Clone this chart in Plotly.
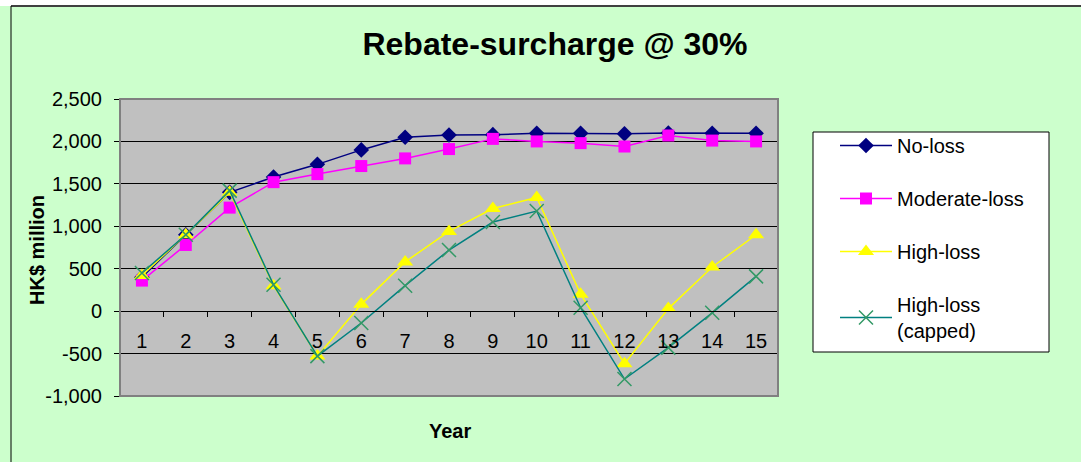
import plotly.graph_objects as go

years = [str(i) for i in range(1, 16)]
no_loss = [400, 900, 1400, 1580, 1730, 1900, 2050, 2075, 2080, 2095, 2095, 2090, 2100, 2095, 2095]
moderate_loss = [360, 780, 1220, 1520, 1615, 1710, 1800, 1910, 2030, 2000, 1980, 1940, 2070, 2010, 2000]
high_loss = [420, 900, 1400, 300, -530, 80, 580, 940, 1210, 1340, 200, -620, 30, 520, 900]
high_loss_capped = [450, 900, 1420, 310, -530, -140, 300, 720, 1050, 1180, 40, -800, -430, -20, 410]
y_tick_vals = [-1000, -500, 0, 500, 1000, 1500, 2000, 2500]
y_tick_text = ["-1,000", "-500", "0", "500", "1,000", "1,500", "2,000", "2,500"]

FONT = "Liberation Sans, Arial, sans-serif"
L, R, T, B = 120, 303, 99, 66
W, H = 1081, 462
PW, PH = W - L - R, H - T - B

def px_x(px):
    return (px - L) / PW

def px_y(py):
    return (H - B - py) / PH

fig = go.Figure()
fig.add_trace(go.Scatter(x=years, y=no_loss, name="No-loss", mode="lines+markers",
                         line=dict(color="#000080", width=1.5),
                         marker=dict(symbol="diamond", size=12, color="#000080"),
                         legendgroup="a"))
fig.add_trace(go.Scatter(x=years, y=moderate_loss, name="Moderate-loss", mode="lines+markers",
                         line=dict(color="#FF00FF", width=1.5),
                         marker=dict(symbol="square", size=12, color="#FF00FF"),
                         legendgroup="b"))
fig.add_trace(go.Scatter(x=years, y=high_loss, name="High-loss", mode="lines+markers",
                         line=dict(color="#FFFF00", width=1.5),
                         marker=dict(symbol="triangle-up", size=14, color="#FFFF00"),
                         legendgroup="c"))
fig.add_trace(go.Scatter(x=years, y=high_loss_capped, name="High-loss<br>(capped)", mode="lines+markers",
                         line=dict(color="#008080", width=1.5),
                         marker=dict(symbol="x-thin", size=14, line=dict(color="#339966", width=1.5)),
                         legendgroup="d"))

fig.update_layout(
    width=W, height=H,
    margin=dict(l=L, r=R, t=T, b=B, autoexpand=False),
    paper_bgcolor="#CCFFCC",
    plot_bgcolor="#C0C0C0",
    font=dict(family=FONT, size=20, color="black"),
    title=dict(text="<b>Rebate-surcharge @ 30%</b>", x=px_x(555), xref="paper", xanchor="center",
               y=1 - 44 / H, yanchor="middle", font=dict(size=32, family=FONT)),
    showlegend=True,
    legend=dict(x=px_x(813), y=px_y(126), xanchor="left", yanchor="top",
                bgcolor="rgba(0,0,0,0)", borderwidth=0,
                traceorder="grouped", tracegroupgap=24, itemwidth=52, indentation=22,
                font=dict(size=20, family=FONT)),
    xaxis=dict(type="category", range=[-0.5, 14.5], anchor="free", position=1000 / 3500,
               showline=True, linecolor="black", linewidth=1,
               ticks="outside", tickson="boundaries", ticklen=5, tickcolor="black",
               ticklabelstandoff=12, showgrid=False, zeroline=False,
               tickfont=dict(size=20)),
    yaxis=dict(range=[-1000, 2500], tickmode="array", tickvals=y_tick_vals, ticktext=y_tick_text,
               showline=True, linecolor="#404040", linewidth=1, ticks="outside", ticklen=5,
               tickcolor="black", gridcolor="black", gridwidth=1, zeroline=False,
               ticklabelstandoff=8, tickfont=dict(size=20)),
    shapes=[
        dict(type="rect", xref="paper", yref="paper", x0=0, x1=1, y0=0, y1=1,
             line=dict(color="#808080", width=2), fillcolor="rgba(0,0,0,0)", layer="above"),
        dict(type="rect", xref="paper", yref="paper", x0=px_x(-5), x1=px_x(W + 5),
             y0=px_y(6), y1=px_y(-5), line=dict(width=0), fillcolor="white", layer="below"),
        dict(type="line", xref="paper", yref="paper", x0=px_x(11), x1=px_x(W + 5),
             y0=px_y(6), y1=px_y(6), line=dict(color="#404040", width=2)),
        dict(type="line", xref="paper", yref="paper", x0=px_x(11), x1=px_x(11),
             y0=px_y(6), y1=px_y(H + 5), line=dict(color="black", width=1)),
        dict(type="rect", xref="paper", yref="paper", x0=px_x(813), x1=px_x(1049),
             y0=px_y(352), y1=px_y(132), line=dict(color="black", width=1),
             fillcolor="white", layer="above"),
    ],
    annotations=[
        dict(text="<b>Year</b>", xref="paper", yref="paper", x=px_x(450), y=px_y(431),
             xanchor="center", yanchor="middle", showarrow=False, font=dict(size=20, family=FONT)),
        dict(text="<b>HK$ million</b>", xref="paper", yref="paper", x=px_x(37), y=px_y(250),
             xanchor="center", yanchor="middle", textangle=-90, showarrow=False,
             font=dict(size=20, family=FONT)),
    ],
)

fig.write_html("out.html", post_script="document.body.style.margin='0';",
               config={"displayModeBar": False})
